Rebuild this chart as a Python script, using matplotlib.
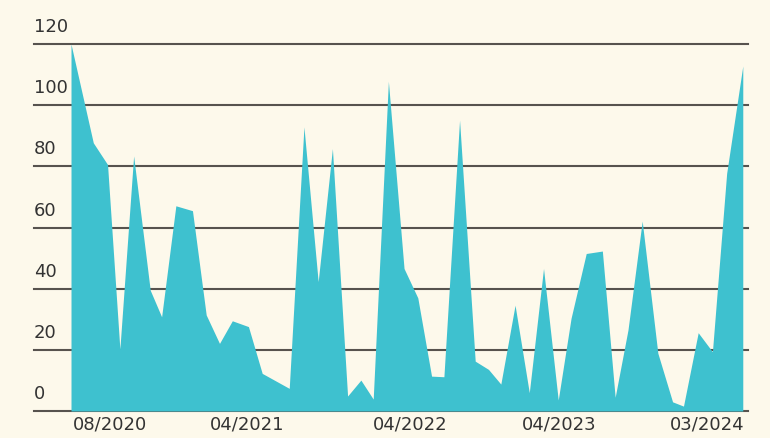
import matplotlib.pyplot as plt
import matplotlib.transforms as mtransforms
import pandas as pd

dates = ['2020-05-15', '2020-07-01', '2020-07-31', '2020-08-26', '2020-09-24',
         '2020-10-29', '2020-11-22', '2020-12-22', '2021-01-26', '2021-02-24',
         '2021-03-24', '2021-04-20', '2021-05-24', '2021-06-22', '2021-08-18',
         '2021-09-18', '2021-10-18', '2021-11-17', '2021-12-19', '2022-01-16',
         '2022-02-11', '2022-03-15', '2022-04-17', '2022-05-16', '2022-06-14',
         '2022-07-10', '2022-08-12', '2022-09-14', '2022-10-12', '2022-11-07',
         '2022-12-07', '2023-01-06', '2023-02-05', '2023-03-08', '2023-04-04',
         '2023-05-06', '2023-06-09', '2023-07-06', '2023-08-02', '2023-09-01',
         '2023-10-04', '2023-11-04', '2023-11-27', '2023-12-28', '2024-01-27',
         '2024-02-26', '2024-03-31']
values = [120, 87.7, 80.6, 20.3, 83.4, 39.5, 30.8, 67.1, 65.5, 31.4,
          22.1, 29.5, 27.6, 12.3, 7.4, 92.9, 42.3, 85.8, 4.9, 10.1,
          3.9, 107.8, 46.6, 37.0, 11.4, 11.2, 95.1, 16.3, 13.6, 8.8,
          34.6, 6.0, 46.6, 3.6, 30.3, 51.5, 52.3, 4.5, 26.5, 62.1,
          18.9, 3.0, 1.6, 25.6, 19.4, 77.7, 112.8]

tick_dates = ['2020-08-05', '2021-05-21', '2022-04-29', '2023-03-09', '2024-01-17']
tick_labels = ['08/2020', '04/2021', '04/2022', '04/2023', '03/2024']
y_ticks = [0, 20, 40, 60, 80, 100, 120]

bg = '#fdf9eb'
fill_color = '#3ec1cf'
text_color = '#333333'

x = pd.to_datetime(dates)

fig = plt.figure(figsize=(7.7, 4.38), dpi=100, facecolor=bg)
ax = fig.add_axes([34 / 770, 27 / 438, (748 - 34) / 770, (411 - 44) / 438])
ax.set_facecolor(bg)

ax.fill_between(x, values, 0, color=fill_color, linewidth=0, zorder=3)

ax.set_ylim(0, 120)
ax.set_xlim(pd.Timestamp('2020-02-27'), pd.Timestamp('2024-04-11'))
ax.set_yticks(y_ticks)
ax.set_yticklabels([])
ax.grid(axis='y', color='#57534e', linewidth=1.5, zorder=1)
ax.grid(axis='x', visible=False)
for gl in ax.get_ygridlines():
    gl.set_clip_on(False)
ax.tick_params(length=0)

for s in ax.spines.values():
    s.set_visible(False)

# y labels sit above their gridlines, at the left end
trans = mtransforms.blended_transform_factory(ax.transAxes, ax.transData)
trans = mtransforms.offset_copy(trans, fig=fig, x=0, y=8, units='dots')
for v in y_ticks:
    ax.text(0, v, str(v), transform=trans, ha='left', va='bottom',
            fontsize=13, color=text_color, clip_on=False)

ax.set_xticks(pd.to_datetime(tick_dates))
ax.set_xticklabels(tick_labels, fontsize=13, color=text_color)
ax.tick_params(axis='x', pad=3)

fig.savefig('out.png', dpi=100, facecolor=bg)
